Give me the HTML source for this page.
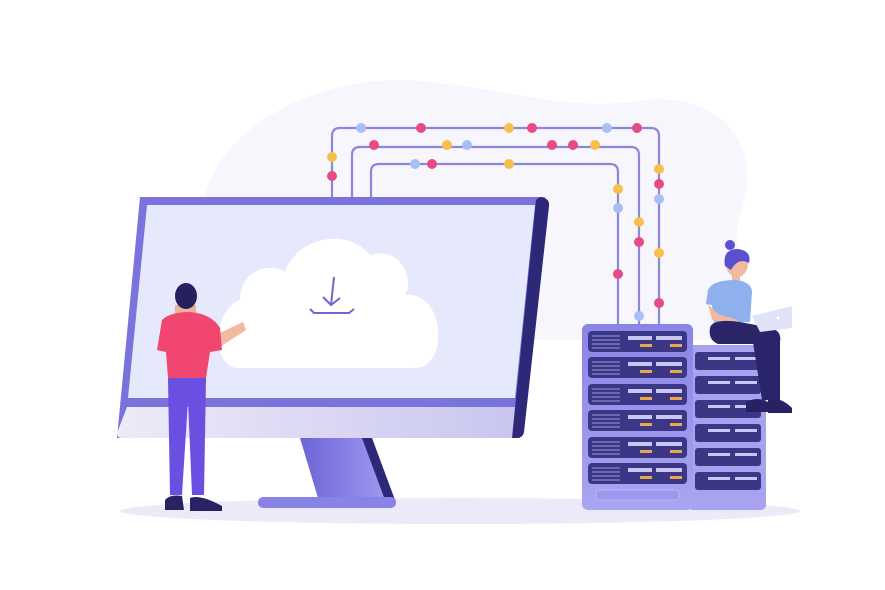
<!DOCTYPE html>
<html><head><style>html,body{margin:0;padding:0;background:#fff;width:885px;height:590px;overflow:hidden}</style></head>
<body>
<svg width="885" height="590" viewBox="0 0 885 590" xmlns="http://www.w3.org/2000/svg">
<defs>
<linearGradient id="chin" x1="0" x2="1"><stop offset="0" stop-color="#ecebf8"/><stop offset="1" stop-color="#c9c6ef"/></linearGradient>
<linearGradient id="stand" x1="0" x2="1"><stop offset="0" stop-color="#6d64d8"/><stop offset="1" stop-color="#a39cf0"/></linearGradient>
<linearGradient id="srv" x1="0" x2="0" y1="0" y2="1"><stop offset="0" stop-color="#8a84e6"/><stop offset="1" stop-color="#a9a5f1"/></linearGradient>
</defs>
<!-- background blob -->
<path d="M205 195 C225 120 330 70 430 82 C520 92 570 112 645 100 C725 92 765 150 740 215 C725 265 765 300 745 340 L200 340 C170 300 185 240 205 195Z" fill="#f6f6fc"/>
<!-- shadow -->
<ellipse cx="460" cy="511" rx="340" ry="13" fill="#eceaf8"/>
<!-- lines -->
<g fill="none" stroke="#8d87dc" stroke-width="2.2">
<path d="M332 197 V136 Q332 128 340 128 H651 Q659 128 659 136 V325"/>
<path d="M352 197 V155 Q352 147 360 147 H631 Q639 147 639 155 V325"/>
<path d="M371 197 V172 Q371 164 379 164 H610 Q618 164 618 172 V325"/>
</g>
<g>
<circle cx="361" cy="128" r="5" fill="#a8bff5"/><circle cx="421" cy="128" r="5" fill="#e84a86"/><circle cx="509" cy="128" r="5" fill="#f6c04a"/><circle cx="532" cy="128" r="5" fill="#e84a86"/><circle cx="607" cy="128" r="5" fill="#a8bff5"/><circle cx="637" cy="128" r="5" fill="#e84a86"/>
<circle cx="332" cy="157" r="5" fill="#f6c04a"/><circle cx="332" cy="176" r="5" fill="#e84a86"/>
<circle cx="659" cy="169" r="5" fill="#f6c04a"/><circle cx="659" cy="184" r="5" fill="#e84a86"/><circle cx="659" cy="199" r="5" fill="#a8bff5"/><circle cx="659" cy="253" r="5" fill="#f6c04a"/><circle cx="659" cy="303" r="5" fill="#e84a86"/>
<circle cx="374" cy="145" r="5" fill="#e84a86"/><circle cx="447" cy="145" r="5" fill="#f6c04a"/><circle cx="467" cy="145" r="5" fill="#a8bff5"/><circle cx="552" cy="145" r="5" fill="#e84a86"/><circle cx="573" cy="145" r="5" fill="#e84a86"/><circle cx="595" cy="145" r="5" fill="#f6c04a"/>
<circle cx="639" cy="222" r="5" fill="#f6c04a"/><circle cx="639" cy="242" r="5" fill="#e84a86"/><circle cx="639" cy="316" r="5" fill="#a8bff5"/>
<circle cx="415" cy="164" r="5" fill="#a8bff5"/><circle cx="432" cy="164" r="5" fill="#e84a86"/><circle cx="509" cy="164" r="5" fill="#f6c04a"/>
<circle cx="618" cy="189" r="5" fill="#f6c04a"/><circle cx="618" cy="208" r="5" fill="#a8bff5"/><circle cx="618" cy="274" r="5" fill="#e84a86"/>
</g>
<!-- monitor -->
<path d="M140 197 H545 L520 438 H117 Z" fill="#7b73dc"/>
<path d="M540 197 Q550 198 549 206 L524 432 Q523 438 516 438 L512 438 L536 200 Z" fill="#2e2878"/>
<path d="M147 205 H535 L515 398 H128 Z" fill="#e6e9fb"/>
<path d="M127 407 H515 L512 438 H122 Q117 438 117 433 Z" fill="url(#chin)"/>
<!-- stand -->
<path d="M300 438 H372 L393 498 H318 Z" fill="url(#stand)"/>
<path d="M362 438 H372 L395 500 H385 Z" fill="#2e2878"/>
<rect x="258" y="497" width="138" height="11" rx="5" fill="#8a83e6"/>
<!-- cloud -->
<path d="M238 368 C212 368 212 310 240 300 C240 270 270 262 285 272 C295 240 345 225 370 255 C400 245 415 280 405 295 C445 290 450 368 415 368 Z" fill="#ffffff"/>
<g stroke="#6f67cf" stroke-width="2" fill="none"><path d="M334 277 L331 305 M323 297 L331 305 L340 298"/><path d="M310 309 L314 313 H349 L354 309"/></g>
<!-- man -->
<path d="M205 340 L243 322 L246 330 L212 352 Z" fill="#f0b9a0"/>
<path d="M175 305 H196 V318 H175Z" fill="#eab39a"/>
<ellipse cx="186" cy="296" rx="11" ry="13" fill="#252060"/>
<path d="M162 320 Q170 312 190 312 Q212 314 220 328 L222 350 L210 352 L206 378 H168 L166 352 L157 350 Z" fill="#f0466f"/>
<path d="M168 378 H206 L204 495 H192 L188 400 L182 495 H170 Z" fill="#6a4fe0"/>
<path d="M165 500 Q170 494 182 496 L184 510 H165Z" fill="#262263"/>
<path d="M190 498 Q200 494 222 506 L222 511 H190Z" fill="#262263"/>
<!-- back server -->
<rect x="688" y="345" width="78" height="165" rx="5" fill="#a7a3ef"/>
<g fill="#3b3685">
<rect x="695" y="352" width="66" height="18" rx="3"/><rect x="695" y="376" width="66" height="18" rx="3"/><rect x="695" y="400" width="66" height="18" rx="3"/><rect x="695" y="424" width="66" height="18" rx="3"/><rect x="695" y="448" width="66" height="18" rx="3"/><rect x="695" y="472" width="66" height="18" rx="3"/>
</g>
<g fill="#c9c6f3"><rect x="708" y="357" width="22" height="3"/><rect x="735" y="357" width="22" height="3"/><rect x="708" y="381" width="22" height="3"/><rect x="735" y="381" width="22" height="3"/><rect x="708" y="405" width="22" height="3"/><rect x="735" y="405" width="22" height="3"/><rect x="708" y="429" width="22" height="3"/><rect x="735" y="429" width="22" height="3"/><rect x="708" y="453" width="22" height="3"/><rect x="735" y="453" width="22" height="3"/><rect x="708" y="477" width="22" height="3"/><rect x="735" y="477" width="22" height="3"/></g>
<!-- front server -->
<rect x="582" y="324" width="111" height="186" rx="6" fill="url(#srv)"/>
<g fill="#3b3685">
<rect x="588" y="331" width="99" height="21" rx="4"/><rect x="588" y="357" width="99" height="21" rx="4"/><rect x="588" y="384" width="99" height="21" rx="4"/><rect x="588" y="410" width="99" height="21" rx="4"/><rect x="588" y="437" width="99" height="21" rx="4"/><rect x="588" y="463" width="99" height="21" rx="4"/>
</g>
<g stroke="#8a86c9" stroke-width="1.2">
<path d="M592 336 H620 M592 340 H620 M592 344 H620 M592 348 H620"/><path d="M592 362 H620 M592 366 H620 M592 370 H620 M592 374 H620"/><path d="M592 389 H620 M592 393 H620 M592 397 H620 M592 401 H620"/><path d="M592 415 H620 M592 419 H620 M592 423 H620 M592 427 H620"/><path d="M592 442 H620 M592 446 H620 M592 450 H620 M592 454 H620"/><path d="M592 468 H620 M592 472 H620 M592 476 H620 M592 480 H620"/>
</g>
<g fill="#c9c6f3">
<rect x="628" y="336" width="24" height="4"/><rect x="656" y="336" width="26" height="4"/><rect x="628" y="362" width="24" height="4"/><rect x="656" y="362" width="26" height="4"/><rect x="628" y="389" width="24" height="4"/><rect x="656" y="389" width="26" height="4"/><rect x="628" y="415" width="24" height="4"/><rect x="656" y="415" width="26" height="4"/><rect x="628" y="442" width="24" height="4"/><rect x="656" y="442" width="26" height="4"/><rect x="628" y="468" width="24" height="4"/><rect x="656" y="468" width="26" height="4"/>
</g>
<g fill="#e8a94a">
<rect x="640" y="344" width="12" height="3"/><rect x="670" y="344" width="12" height="3"/><rect x="640" y="370" width="12" height="3"/><rect x="670" y="370" width="12" height="3"/><rect x="640" y="397" width="12" height="3"/><rect x="670" y="397" width="12" height="3"/><rect x="640" y="423" width="12" height="3"/><rect x="670" y="423" width="12" height="3"/><rect x="640" y="450" width="12" height="3"/><rect x="670" y="450" width="12" height="3"/><rect x="640" y="476" width="12" height="3"/><rect x="670" y="476" width="12" height="3"/>
</g>
<rect x="596" y="490" width="83" height="10" rx="3" fill="#9d98ee" stroke="#b9b5f5"/>
<!-- woman -->
<circle cx="730" cy="245" r="5" fill="#5a4fcf"/>
<ellipse cx="737" cy="264" rx="11" ry="13" fill="#f0b9a0"/>
<path d="M725 266 Q722 249 738 249 Q752 251 749 263 Q738 257 731 270 Z" fill="#5a4fcf"/>
<rect x="732" y="274" width="8" height="8" fill="#f0b9a0"/>
<path d="M708 290 Q712 280 736 280 Q752 282 752 292 L750 322 H714 L712 305 L706 304 Z" fill="#8fb0ee"/>
<path d="M708 304 L712 320 L738 326 L738 320 L718 314 Z" fill="#f0b9a0"/>
<path d="M710 328 Q712 318 740 322 L772 328 Q782 332 780 342 L752 344 L718 344 Q708 340 710 328Z" fill="#2a2468"/>
<path d="M752 336 L780 336 L780 400 L762 400 Z" fill="#2a2468"/>
<path d="M752 316 L792 306 L792 328 L760 332 Z" fill="#dfe3f5"/>
<circle cx="778" cy="318" r="1.5" fill="#fff"/>
<path d="M746 402 Q758 396 768 402 L770 412 H746Z" fill="#262263"/>
<path d="M768 400 Q780 396 792 408 L792 413 H768Z" fill="#262263"/>
</svg>
</body></html>
